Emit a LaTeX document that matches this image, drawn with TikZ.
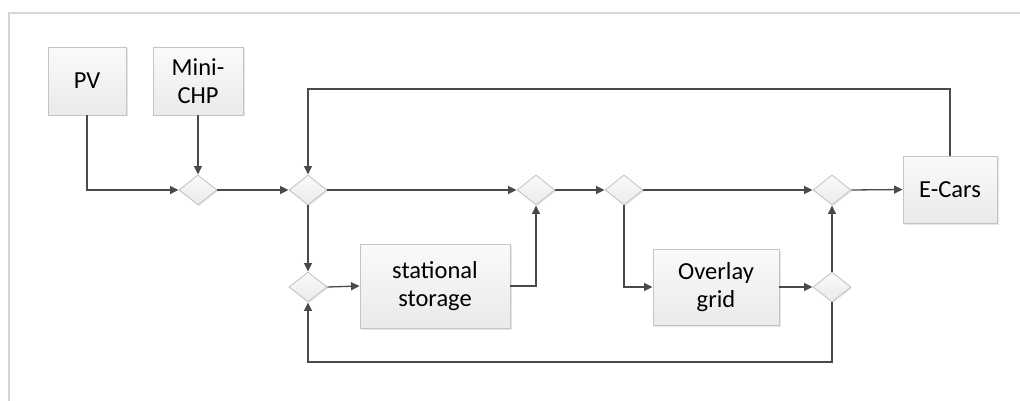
\documentclass[tikz,border=0pt]{standalone}
\usepackage{fontspec}
\setmainfont{Carlito}
\usetikzlibrary{shapes.geometric,arrows.meta,shadows}
\definecolor{linec}{HTML}{4A4A4A}
\definecolor{boxline}{HTML}{C4C4C4}
\definecolor{framec}{HTML}{D6D6D6}
\definecolor{boxtop}{HTML}{FAFAFA}
\definecolor{boxbot}{HTML}{EAEAEA}
\tikzset{
  blk/.style={rectangle, draw=boxline, line width=0.9pt, top color=boxtop, bottom color=boxbot,
    drop shadow={shadow xshift=1.5pt, shadow yshift=-1.5pt, opacity=0.2, fill=gray},
    align=center, font=\fontsize{24.5}{27.5}\selectfont, text=black, inner sep=0pt},
  junc/.style={diamond, draw=boxline, line width=0.9pt, top color=boxtop, bottom color=boxbot,
    drop shadow={shadow xshift=1.2pt, shadow yshift=-1.2pt, opacity=0.18, fill=gray},
    minimum width=38pt, minimum height=30pt, inner sep=0pt},
  arr/.style={draw=linec, line width=1.3pt, -{Triangle[length=8.5pt,width=8pt]}},
}
\begin{document}
\begin{tikzpicture}[x=1pt,y=-1pt]
\useasboundingbox (0,0) rectangle (1020,401);
\draw[framec, line width=2pt] (1020,13) -- (9,13) -- (9,401);
\node[blk, minimum width=78pt, minimum height=68pt] (pv) at (87,81) {PV};
\node[blk, minimum width=90pt, minimum height=68pt] (chp) at (198,81) {Mini-\\CHP};
\node[blk, minimum width=150pt, minimum height=84pt] (st) at (435,286) {stational\\storage};
\node[blk, minimum width=126pt, minimum height=76pt] (ov) at (716,287) {Overlay\\grid};
\node[blk, minimum width=94pt, minimum height=67pt] (ec) at (950,189.5) {E-Cars};
\node[junc] (d1) at (198,190) {};
\node[junc] (d2) at (308,190) {};
\node[junc] (d3) at (536,190) {};
\node[junc] (d4) at (624,190) {};
\node[junc] (d5) at (832,190) {};
\node[junc] (dl) at (308,287) {};
\node[junc] (dr) at (832,287) {};
\coordinate (top) at (0,89);
\coordinate (bot) at (0,362);
\draw[arr] (pv.south) |- (d1.west);
\draw[arr] (chp.south) -- (d1.north);
\draw[arr] (d1.east) -- (d2.west);
\draw[arr] (d2.east) -- (d3.west);
\draw[arr] (d2.south) -- (dl.north);
\draw[arr] (dl.east) -- (st.west);
\draw[arr] (st.east) -| (d3.south);
\draw[arr] (d3.east) -- (d4.west);
\draw[arr] (d4.east) -- (d5.west);
\draw[arr] (d4.south) |- (ov.west);
\draw[arr] (ov.east) -- (dr.west);
\draw[arr] (dr.north) -- (d5.south);
\draw[arr] (dr.south) -- (dr.south |- bot) -| (dl.south);
\draw[arr] (d5.east) -- (ec.west);
\draw[arr] (ec.north) -- (ec.north |- top) -| (d2.north);
\end{tikzpicture}
\end{document}
